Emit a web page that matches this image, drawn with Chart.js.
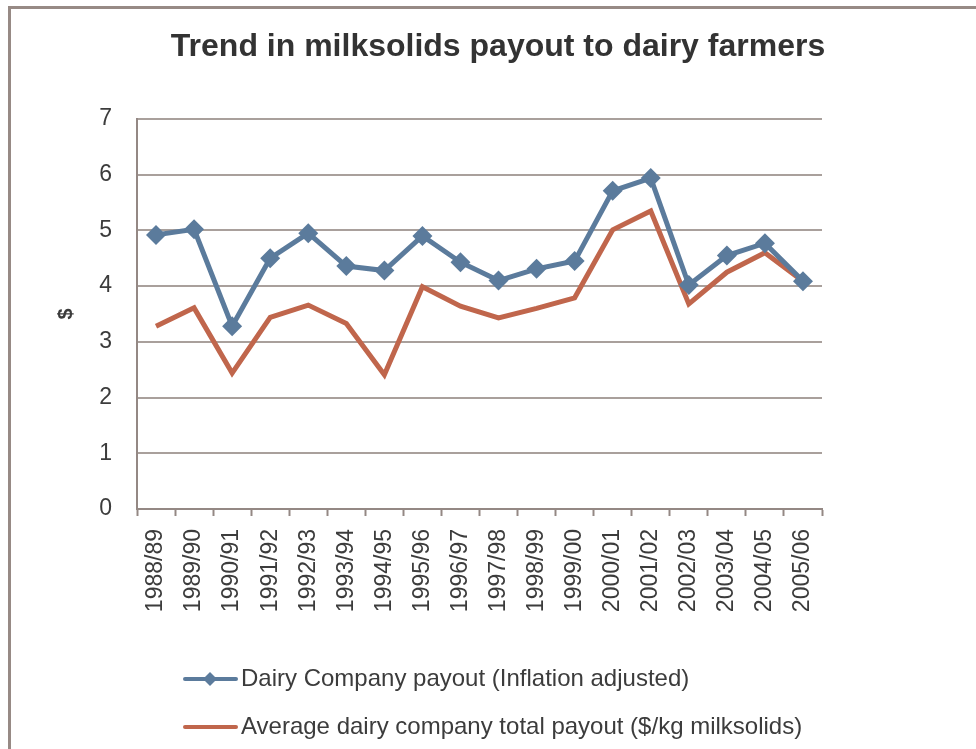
<!DOCTYPE html>
<html>
<head>
<meta charset="utf-8">
<title>Milksolids payout</title>
<script src="https://cdn.jsdelivr.net/npm/chart.js@4/dist/chart.umd.min.js"></script>
<style>
    html, body { margin: 0; padding: 0; background: #fff; }
    #wrap { width: 976px; height: 749px; }
</style>
</head>
<body>
<div id="wrap"><canvas id="grafico-payout" width="976" height="749"></canvas></div>
<script>
// seasons on the x axis
const seasons = ['1988/89', '1989/90', '1990/91', '1991/92', '1992/93', '1993/94', '1994/95',
    '1995/96', '1996/97', '1997/98', '1998/99', '1999/00', '2000/01', '2001/02', '2002/03',
    '2003/04', '2004/05', '2005/06'];

// $ per kg milksolids
const payoutAdjusted = [4.92, 5.02, 3.28, 4.50, 4.95, 4.36, 4.28, 4.90, 4.43, 4.10, 4.31, 4.45,
    5.71, 5.94, 4.02, 4.55, 4.77, 4.09];
const payoutTotal = [3.28, 3.61, 2.44, 3.44, 3.66, 3.33, 2.41, 3.99, 3.64, 3.43, 3.60, 3.79,
    5.01, 5.35, 3.68, 4.25, 4.60, 4.09];

const yTicks = [0, 1, 2, 3, 4, 5, 6, 7];

const chartTitle = 'Trend in milksolids payout to dairy farmers';

const BLUE = '#5b7b9c';
const RED = '#c0664c';
const AXIS = '#948884';
const GRID = '#a9a09c';
const TEXT = '#3c3c3c';
const FONT = '"Liberation Sans", Arial, sans-serif';

document.addEventListener('DOMContentLoaded', () => {
    const ctx = document.getElementById('grafico-payout').getContext('2d');

    // outer frame and the title, centred on the whole box
    const framePlugin = {
        id: 'frame',
        beforeDraw(chart) {
            const c = chart.ctx;
            c.save();
            c.fillStyle = '#fff';
            c.fillRect(0, 0, chart.width, chart.height);
            c.strokeStyle = '#978a85';
            c.lineWidth = 3;
            c.strokeRect(9.5, 7.5, chart.width + 20, chart.height + 20);
            c.fillStyle = '#333333';
            c.font = 'bold 32px ' + FONT;
            c.textAlign = 'center';
            c.textBaseline = 'middle';
            c.fillText(chartTitle, 498, 47);
            c.restore();
        }
    };

    // legend stacked under the axis labels
    const legendPlugin = {
        id: 'legendaBaixo',
        afterDraw(chart) {
            const c = chart.ctx;
            const rows = [679, 727];
            c.save();
            chart.data.datasets.forEach((ds, i) => {
                const y = rows[i];
                c.strokeStyle = ds.borderColor;
                c.lineWidth = 4;
                c.lineCap = 'round';
                c.beginPath();
                c.moveTo(185, y);
                c.lineTo(236, y);
                c.stroke();
                if (ds.pointRadius > 0) {
                    const r = 7;
                    c.fillStyle = ds.borderColor;
                    c.beginPath();
                    c.moveTo(210, y - r);
                    c.lineTo(210 + r, y);
                    c.lineTo(210, y + r);
                    c.lineTo(210 - r, y);
                    c.closePath();
                    c.fill();
                }
                c.fillStyle = TEXT;
                c.font = '24px ' + FONT;
                c.textBaseline = 'middle';
                c.textAlign = 'left';
                c.fillText(ds.label, 241, y);
            });
            c.restore();
        }
    };

    new Chart(ctx, {
        type: 'line',
        data: {
            labels: seasons,
            datasets: [
                {
                    label: 'Dairy Company payout (Inflation adjusted)',
                    data: payoutAdjusted,
                    borderColor: BLUE,
                    backgroundColor: BLUE,
                    borderWidth: 5,
                    pointStyle: 'rectRot',
                    pointRadius: 10,
                    pointBorderWidth: 0,
                    pointBackgroundColor: BLUE,
                    tension: 0
                },
                {
                    label: 'Average dairy company total payout ($/kg milksolids)',
                    data: payoutTotal,
                    borderColor: RED,
                    backgroundColor: RED,
                    borderWidth: 5,
                    pointRadius: 0,
                    tension: 0
                }
            ]
        },
        options: {
            responsive: false,
            animation: false,
            layout: { padding: { left: 0, right: 154, top: 119, bottom: 0 } },
            plugins: {
                legend: { display: false },
                tooltip: { enabled: false },
                title: { display: false }
            },
            scales: {
                x: {
                    offset: true,
                    grid: {
                        offset: true,
                        drawOnChartArea: false,
                        drawTicks: true,
                        tickLength: 7,
                        tickColor: AXIS,
                        tickWidth: 2
                    },
                    border: { color: AXIS, width: 2 },
                    ticks: {
                        autoSkip: false,
                        minRotation: 90,
                        maxRotation: 90,
                        padding: 13,
                        color: TEXT,
                        font: { family: FONT, size: 23 }
                    },
                    afterFit(scale) { scale.height = 240; }
                },
                y: {
                    min: 0,
                    max: 7,
                    afterBuildTicks(scale) { scale.ticks = yTicks.map(v => ({ value: v })); },
                    grid: { color: GRID, lineWidth: 2, drawTicks: false },
                    border: { color: AXIS, width: 2 },
                    ticks: {
                        padding: 25,
                        color: TEXT,
                        font: { family: FONT, size: 23 }
                    },
                    title: {
                        display: true,
                        text: '$',
                        color: TEXT,
                        font: { family: FONT, size: 20, weight: 'bold' },
                        padding: { top: 54, bottom: 0 }
                    },
                    afterFit(scale) { scale.width = 137; }
                }
            }
        },
        plugins: [framePlugin, legendPlugin]
    });
});
</script>
</body>
</html>
